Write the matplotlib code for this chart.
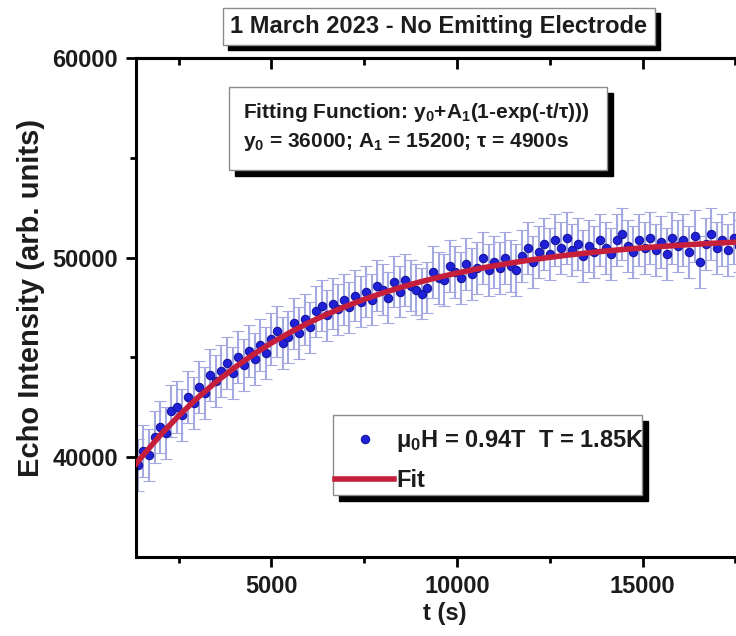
import matplotlib
matplotlib.use('Agg')
from matplotlib import pyplot as plt
from matplotlib.patches import Rectangle

plt.rcParams['font.family'] = ['Liberation Sans', 'DejaVu Sans']
plt.rcParams['font.weight'] = 'bold'
plt.rcParams['axes.labelweight'] = 'bold'
plt.rcParams['mathtext.fontset'] = 'custom'
plt.rcParams['mathtext.rm'] = 'Liberation Sans:bold'
plt.rcParams['mathtext.it'] = 'Liberation Sans:bold'
plt.rcParams['mathtext.bf'] = 'Liberation Sans:bold'

t = [1400, 1550, 1700, 1850, 2000, 2150, 2300, 2450, 2600, 2750, 2900, 3050,
     3200, 3350, 3500, 3650, 3800, 3950, 4100, 4250, 4400, 4550, 4700, 4850,
     5000, 5150, 5300, 5450, 5600, 5750, 5900, 6050, 6200, 6350, 6500, 6650,
     6800, 6950, 7100, 7250, 7400, 7550, 7700, 7850, 8000, 8150, 8300, 8450,
     8600, 8750, 8900, 9050, 9200, 9350, 9500, 9650, 9800, 9950, 10100, 10250,
     10400, 10550, 10700, 10850, 11000, 11150, 11300, 11450, 11600, 11750,
     11900, 12050, 12200, 12350, 12500, 12650, 12800, 12950, 13100, 13250,
     13400, 13550, 13700, 13850, 14000, 14150, 14300, 14450, 14600, 14750,
     14900, 15050, 15200, 15350, 15500, 15650, 15800, 15950, 16100, 16250,
     16400, 16550, 16700, 16850, 17000, 17150, 17300, 17450, 17600, 17750,
     17900]
intensity = [39600, 40300, 40100, 41000, 41500, 41200, 42300, 42500, 42100,
             43000, 42700, 43500, 43200, 44100, 43800, 44300, 44700, 44200,
             45000, 44600, 45300, 44900, 45600, 45200, 45900, 46300, 45700,
             46000, 46700, 46200, 46900, 46500, 47300, 47600, 47100, 47700,
             47400, 47900, 47500, 48100, 47800, 48300, 47900, 48600, 48400,
             48000, 48800, 48300, 48900, 48600, 48400, 48200, 48500, 49300,
             49000, 48900, 49600, 49300, 49000, 49700, 49200, 49500, 50000,
             49400, 49800, 49500, 50000, 49600, 49400, 50100, 50500, 49800,
             50300, 50700, 50200, 50900, 50500, 51000, 50400, 50700, 50100,
             50600, 50300, 50900, 50500, 50200, 50900, 51200, 50600, 50300,
             50900, 50500, 51000, 50400, 50800, 50200, 51000, 50600, 50900,
             50300, 51100, 49800, 50700, 51200, 50500, 50900, 50400, 51000,
             50600, 50100, 50900]
err = 1300

# fitted curve values
fit_t = [1350, 1500, 2000, 2500, 3000, 3500, 4000, 4500, 5000, 5500, 6000,
         6500, 7000, 7500, 8000, 8500, 9000, 9500, 10000, 10500, 11000, 11500,
         12000, 12500, 13000, 13500, 14000, 14500, 15000, 15500, 16000, 16500,
         17000, 17500, 18000]
fit_y = [39660, 40008, 41094, 42074, 42959, 43760, 44482, 45134, 45722, 46252,
         46733, 47166, 47557, 47911, 48230, 48519, 48779, 49013, 49226, 49417,
         49590, 49745, 49887, 50014, 50130, 50233, 50327, 50411, 50489, 50557,
         50619, 50676, 50727, 50773, 50814]

title = '1 March 2023 - No Emitting Electrode'
fit_line1 = r'Fitting Function: y$_0$+A$_1$(1-exp(-t/τ)))'
fit_line2 = r'y$_0$ = 36000; A$_1$ = 15200; τ = 4900s'
data_label = r'μ$_0$H = 0.94T  T = 1.85K'

W, H = 736, 636
TXT = '#1c1c1c'

fig = plt.figure(figsize=(W / 100, H / 100), dpi=100)
ax = fig.add_axes([136 / W, 1 - 557 / H, 618 / W, 499 / H])

cont = ax.errorbar(t, intensity, yerr=err, fmt='o', ms=6, mfc='#2020d8',
                   mec='#16169a', mew=0.8, ecolor='#a4a9e2', elinewidth=1.5,
                   capsize=4, capthick=1.3, zorder=2)
for cap in cont[1]:
    cap.set_color('#8c8c98')
fit_ln, = ax.plot(fit_t, fit_y, color='#c61f3c', lw=4, zorder=3)

ax.set_xlim(1350, 18000)
ax.set_ylim(35000, 60000)
ax.set_xticks([5000, 10000, 15000])
ax.set_xticks([2500, 7500, 12500, 17500], minor=True)
ax.set_yticks([40000, 50000, 60000])
ax.set_yticks([45000, 55000], minor=True)
for s in ax.spines.values():
    s.set_linewidth(2.2)
ax.tick_params(which='major', direction='out', length=7, width=2,
               labelsize=17, colors='black', labelcolor=TXT, pad=6)
ax.tick_params(which='minor', direction='out', length=4, width=2)

top = ax.secondary_xaxis('top')
top.set_xticks([5000, 10000, 15000])
top.set_xticks([2500, 7500, 12500, 17500], minor=True)
top.tick_params(which='major', direction='in', length=8, width=2, labeltop=False)
top.tick_params(which='minor', direction='in', length=5, width=2)
top.spines['top'].set_linewidth(2.2)

ax.set_xlabel('t (s)', fontsize=17, color=TXT, labelpad=3)
ax.set_ylabel('Echo Intensity (arb. units)', fontsize=21, color=TXT)
ax.yaxis.set_label_coords(-0.147, 0.52)


def box(x0, y0, x1, y1, off=5):
    w, h = (x1 - x0) / W, (y1 - y0) / H
    ax.add_patch(Rectangle(((x0 + off) / W, 1 - (y1 + off) / H), w, h,
                           transform=fig.transFigure, color='black',
                           clip_on=False, zorder=3.8))
    ax.add_patch(Rectangle((x0 / W, 1 - y1 / H), w, h,
                           transform=fig.transFigure, facecolor='white',
                           edgecolor='#8c8c8c', lw=1, clip_on=False, zorder=3.9))


box(223, 8, 655, 45)
ax.text(439 / W, 1 - 27 / H, title, transform=fig.transFigure, ha='center',
        va='center', fontsize=17, color=TXT, zorder=6)

box(229, 87, 607, 170, off=6)
ax.text(243 / W, 1 - 113 / H, fit_line1, transform=fig.transFigure,
        ha='left', va='center', fontsize=15, color=TXT, zorder=6)
ax.text(243 / W, 1 - 142 / H, fit_line2, transform=fig.transFigure,
        ha='left', va='center', fontsize=15, color=TXT, zorder=6)

box(333, 415, 642, 495, off=6)
leg = ax.legend([cont[0], fit_ln], [data_label, 'Fit'], loc='center left',
                bbox_to_anchor=(335 / W, 1 - 460 / H),
                bbox_transform=fig.transFigure, frameon=False, fontsize=17,
                handlelength=2.5, handletextpad=0.1, labelspacing=0.65,
                borderpad=0, borderaxespad=0)
for txt in leg.get_texts():
    txt.set_color(TXT)
leg.set_zorder(6)

fig.savefig('out.png', dpi=100)
